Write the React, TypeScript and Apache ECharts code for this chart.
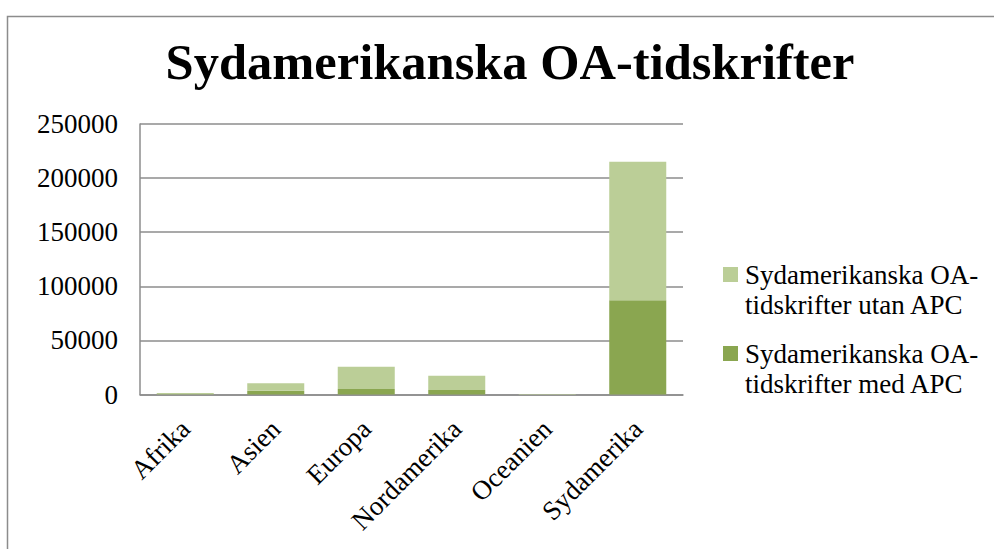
import React, { useEffect, useRef } from "react";
import * as echarts from "echarts";

const categories = ["Afrika", "Asien", "Europa", "Nordamerika", "Oceanien", "Sydamerika"];
const medAPC = [300, 3500, 5100, 4200, 100, 87000];
const utanAPC = [1100, 6850, 20600, 13200, 300, 128000];
const yTicks = { min: 0, max: 250000, interval: 50000 };
const seriesNames = [
  "Sydamerikanska OA-tidskrifter utan APC",
  "Sydamerikanska OA-tidskrifter med APC",
];
const colors = { utan: "#bbce97", med: "#8aa650" };
const titleText = "Sydamerikanska OA-tidskrifter";

const FONT = "'Liberation Serif', 'DejaVu Serif', serif";

export default function App() {
  const ref = useRef<HTMLDivElement>(null);
  useEffect(() => {
    if (!ref.current) return;
    const chart = echarts.init(ref.current, null, { renderer: "svg" });
    const axisGray = "#8c8c8c";
    chart.setOption({
      animation: false,
      backgroundColor: "#ffffff",
      textStyle: { fontFamily: FONT },
      title: {
        text: titleText,
        left: 505,
        textAlign: "center",
        top: 31,
        textStyle: { fontFamily: FONT, fontSize: 50.5, fontWeight: "bold", color: "#000" },
      },
      graphic: [
        {
          type: "rect",
          left: 5,
          top: 14,
          shape: { width: 1200, height: 800 },
          style: { fill: "none", stroke: axisGray, lineWidth: 1.5 },
          silent: true,
        },
      ],
      legend: {
        orient: "vertical",
        left: 713,
        top: 256,
        itemWidth: 0,
        itemHeight: 0,
        itemGap: 22,
        icon: "rect",
        data: seriesNames,
        formatter: (name: string) => {
          const idx = name.indexOf("OA-") + 3;
          const first = name.slice(0, idx);
          const rest = name.slice(idx).trim();
          const box = name.indexOf("utan") >= 0 ? "a" : "b";
          return `{${box}| }{g| }{t|${first}}\n{s| }{t|${rest}}`;
        },
        textStyle: {
          fontFamily: FONT,
          fontSize: 27,
          color: "#000",
          rich: {
            a: { width: 15, height: 15, backgroundColor: colors.utan, fontSize: 1, verticalAlign: "middle" },
            b: { width: 15, height: 15, backgroundColor: colors.med, fontSize: 1, verticalAlign: "middle" },
            g: { width: 7, fontSize: 1 },
            s: { width: 22, fontSize: 1 },
            t: { fontFamily: FONT, fontSize: 27, lineHeight: 30, color: "#000", verticalAlign: "middle" },
          },
        },
      },
      grid: { left: 140, right: 311, top: 124, bottom: 154.5, containLabel: false },
      xAxis: {
        type: "category",
        data: categories,
        axisLine: { show: true, lineStyle: { color: axisGray, width: 1.5 } },
        axisTick: { show: false },
        axisLabel: {
          rotate: 45,
          margin: 30,
          interval: 0,
          fontFamily: FONT,
          fontSize: 27,
          color: "#000",
        },
      },
      yAxis: {
        type: "value",
        min: yTicks.min,
        max: yTicks.max,
        interval: yTicks.interval,
        axisLine: { show: true, lineStyle: { color: axisGray, width: 1.5 } },
        axisTick: { show: false },
        splitLine: { show: true, lineStyle: { color: axisGray, width: 1.5 } },
        axisLabel: {
          margin: 22,
          fontFamily: FONT,
          fontSize: 27,
          color: "#000",
          formatter: (v: number) => String(v),
        },
      },
      series: [
        {
          name: seriesNames[1],
          type: "bar",
          stack: "total",
          data: medAPC,
          barCategoryGap: "37%",
          itemStyle: { color: colors.med },
        },
        {
          name: seriesNames[0],
          type: "bar",
          stack: "total",
          data: utanAPC,
          barCategoryGap: "37%",
          itemStyle: { color: colors.utan },
        },
      ],
    });
    return () => chart.dispose();
  }, []);
  return (
    <div
      ref={ref}
      style={{ position: "absolute", left: 0, top: 0, width: 994, height: 549, background: "#fff" }}
    />
  );
}
